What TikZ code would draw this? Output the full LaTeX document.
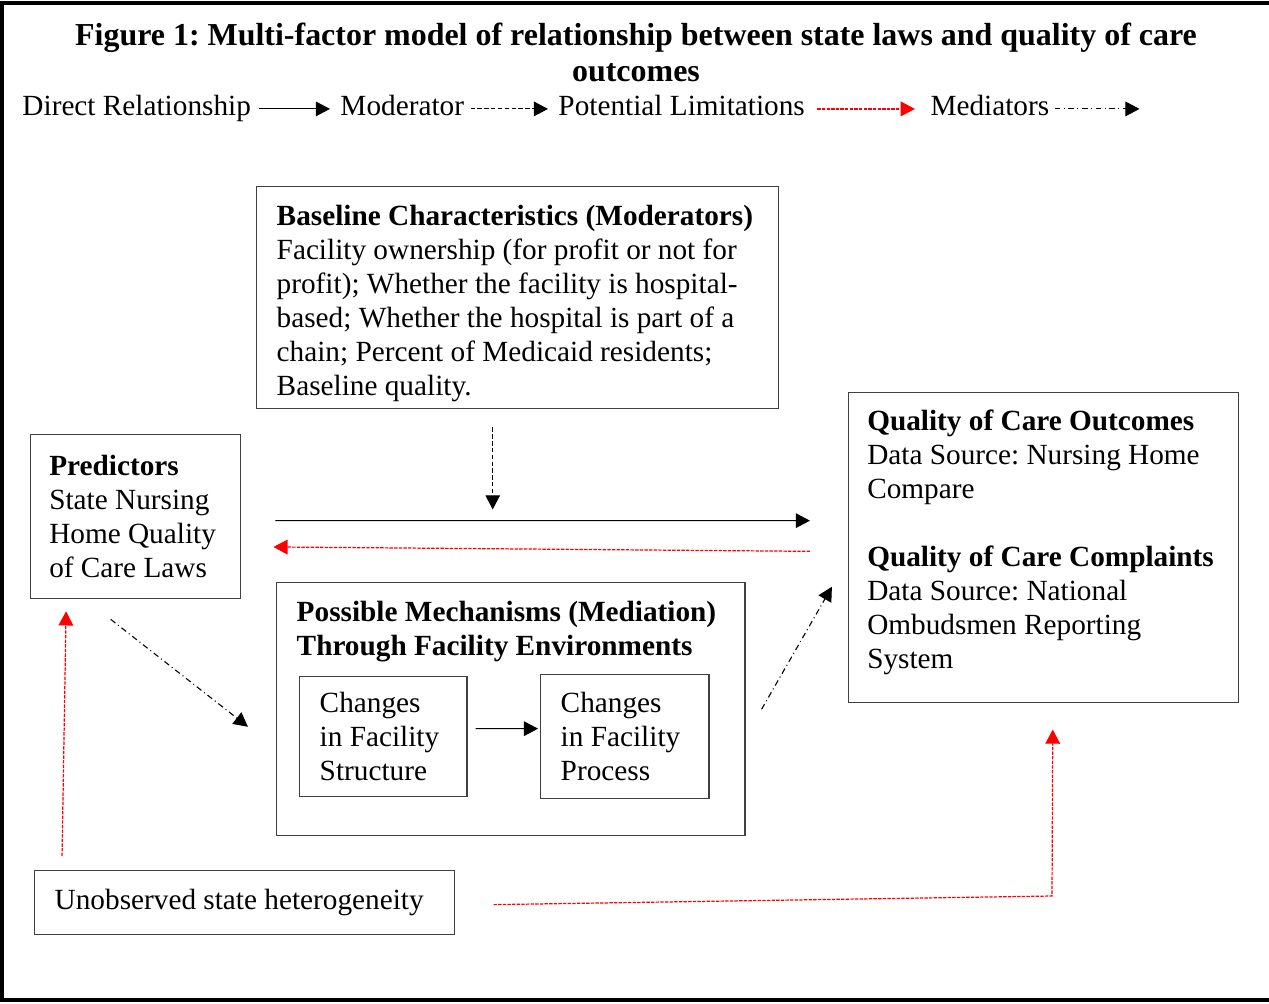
\documentclass[tikz,border=0pt]{standalone}
\usepackage{fontspec}
\setmainfont{Liberation Serif}
\usetikzlibrary{arrows.meta}
\frenchspacing

\begin{document}
\begin{tikzpicture}[
        x=0.41pt, y=-0.41pt,
        font=\fontsize{12pt}{13.94pt}\selectfont,
        box/.style={rectangle, draw=black!75, line width=0.6pt, anchor=north west, align=flush left, inner ysep=0pt},
        legend/.style={anchor=base west, inner sep=0pt, text height=8pt, text depth=3pt},
        direct/.style={-{Triangle[length=5.8pt, width=6pt]}, line width=0.45pt},
        moderator/.style={direct, dash pattern=on 1.8pt off 1pt},
        limitation/.style={-{Triangle[length=5.8pt, width=6pt]}, red, line width=0.5pt, dash pattern=on 1.4pt off 0.5pt},
        mediator/.style={direct, dash pattern=on 2.4pt off 1.4pt on 0.4pt off 1.4pt}
    ]
        \useasboundingbox (0,0) rectangle (1269,1003);

        % Frame
        \draw[line width=1.3pt] (1280,3) -- (2,3) -- (2,1000) -- (1280,1000);

        % Title
        \node[anchor=north, inner sep=0pt, align=center, font=\fontsize{13.1pt}{14.6pt}\selectfont\bfseries] (title) at (636,23)
            {Figure 1: Multi-factor model of relationship between state laws and quality of care\\outcomes};

        % Legend
        \node[legend] (lgdirect) at (22,115) {Direct Relationship};
        \node[legend] (lgmod) at (340,115) {Moderator};
        \node[legend] (lglimit) at (558,115) {Potential Limitations};
        \node[legend] (lgmed) at (930,115) {Mediators};

        \draw[direct, shorten <=3.3pt, shorten >=4.1pt] (lgdirect.east) -- (lgmod.west);
        \draw[moderator, shorten <=2.5pt, shorten >=4.1pt] (lgmod.east) -- (lglimit.west);
        \draw[limitation, shorten <=4.9pt, shorten >=6.2pt] (lglimit.east) -- (lgmed.west);
        \draw[mediator] ([xshift=2pt]lgmed.east) -- ++(85,0);

        % Moderators
        \node[box, inner xsep=8.2pt, inner ysep=7.4pt] (baseline) at (256,186)
            {\parbox[t][76.2pt][t]{197.6pt}{\raggedright
             \mbox{\textbf{Baseline Characteristics (Moderators)}}\\
             Facility ownership (for profit or not for\\
             profit); Whether the facility is hospital-\\
             based; Whether the hospital is part of a\\
             chain; Percent of Medicaid residents;\\
             Baseline quality.}};

        % Predictors
        \node[box, minimum width=86.1pt, minimum height=67.2pt, inner xsep=7.6pt, text width=70.9pt] (predictors) at (30,434)
            {\textbf{Predictors}\\State Nursing\\Home Quality\\of Care Laws};

        % Outcomes
        \node[box, inner xsep=7.6pt, inner ysep=7pt] (outcomes) at (848,392)
            {\parbox[t][113.1pt][t]{144.7pt}{\raggedright
             \mbox{\textbf{Quality of Care Outcomes}}\\
             Data Source: Nursing Home\\
             Compare\\[13.94pt]
             \mbox{\textbf{Quality of Care Complaints}}\\
             Data Source: National\\
             Ombudsmen Reporting\\
             System}};

        % Mediation
        \node[box, inner xsep=8.2pt, inner ysep=7.4pt] (mechanisms) at (276,582)
            {\parbox[t][88.9pt][t]{175.5pt}{\raggedright
             \mbox{\textbf{Possible Mechanisms (Mediation)}}\\
             \mbox{\textbf{Through Facility Environments}}}};
        \node[box, minimum width=68.5pt, minimum height=49.2pt, inner xsep=8.2pt, text width=52.1pt] (structure) at (299,676)
            {Changes\\in Facility\\Structure};
        \node[box, minimum width=68.9pt, minimum height=50.8pt, inner xsep=8.2pt, text width=52.5pt] (process) at (540,674)
            {Changes\\in Facility\\Process};

        % Heterogeneity
        \node[box, minimum width=172.2pt, minimum height=26.2pt, inner xsep=8.2pt, text width=155.8pt] (unobserved) at (34,870)
            {Unobserved state heterogeneity};
        \coordinate (bend) at (1052,896);

        \draw[moderator, shorten <=7.4pt] ([xshift=-10.25pt]baseline.south) -- ++(0,100);
        \draw[direct, shorten <=13.9pt, shorten >=15.6pt] ([yshift=-1.6pt]predictors.east) -- ([yshift=11.1pt]outcomes.west);
        \draw[limitation, shorten <=15.6pt, shorten >=13.1pt] ([yshift=-1.6pt]outcomes.west) -- ([yshift=-12.3pt]predictors.east);
        \draw[mediator] ([shift={(-10.25pt,-8.2pt)}]predictors.south) -- ([shift={(-11.5pt,-7.2pt)}]mechanisms.west);
        \draw[mediator] ([xshift=6.6pt]mechanisms.east) -- ([shift={(-6.6pt,-16pt)}]outcomes.west);
        \draw[direct, shorten <=3.3pt, shorten >=0.8pt] ([yshift=3.3pt]structure.east) -- ([yshift=3.3pt]process.west);
        \draw[limitation] ([shift={(11.5pt,5.7pt)}]unobserved.north west) -- ([shift={(14.8pt,-4.9pt)}]predictors.south west);
        \draw[limitation] ([shift={(15.6pt,-0.8pt)}]unobserved.east) -- (bend) -- ([shift={(3.7pt,-10.7pt)}]outcomes.south);
    \end{tikzpicture}
\end{document}
